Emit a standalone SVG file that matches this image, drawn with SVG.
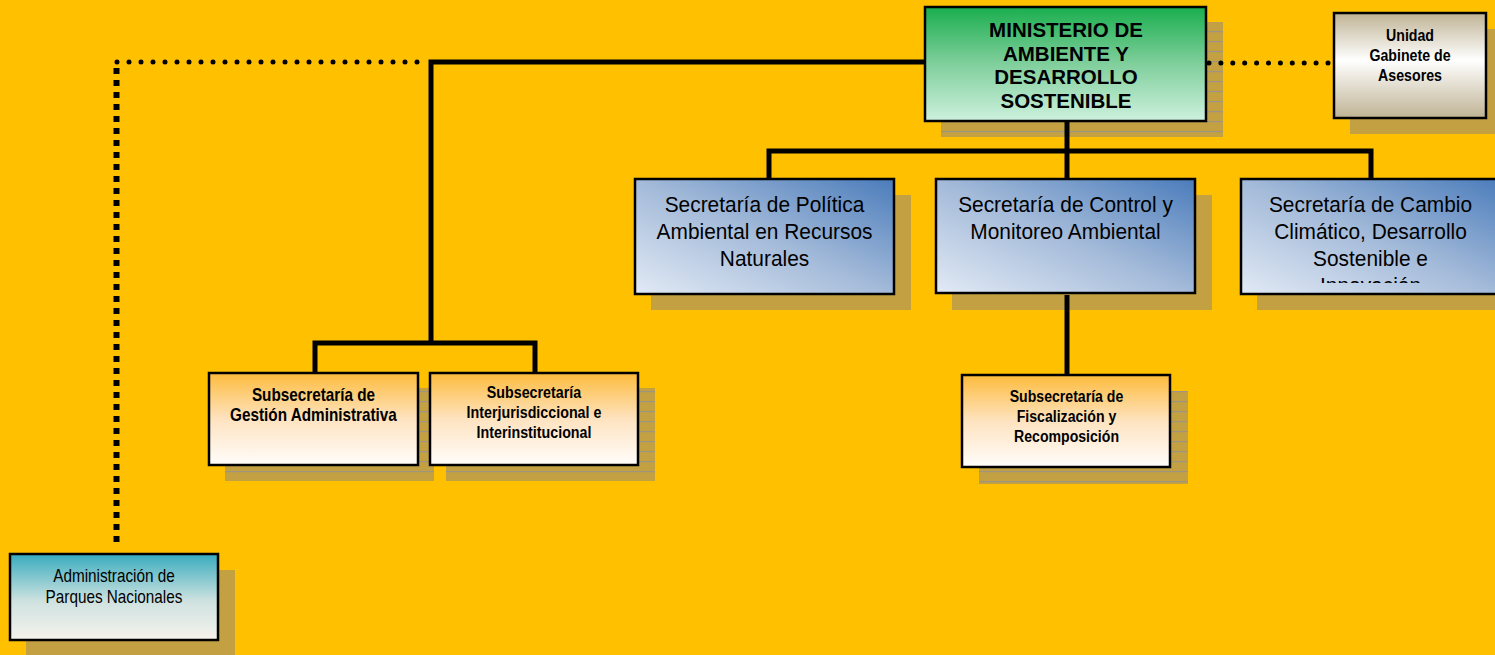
<svg xmlns="http://www.w3.org/2000/svg" width="1495" height="655" viewBox="0 0 1495 655">
<style>
.box{stroke:#000;stroke-width:2.5}
.t{font-family:"Liberation Sans",Arial,sans-serif;fill:#000;text-anchor:middle}
.b{font-weight:bold}
.conn{fill:none;stroke:#000;stroke-width:5}
.shadow{fill:#c3a143}
</style>
<defs>
<pattern id="stripe" width="10" height="10" patternUnits="userSpaceOnUse">
<rect width="10" height="10" fill="#c3a143"/>
<rect y="1" width="10" height="1.2" fill="#9e9580"/>
</pattern>
<linearGradient id="gGreen" x1="0" y1="0" x2="0" y2="1">
<stop offset="0" stop-color="#1aae4e"/>
<stop offset="0.5" stop-color="#80cf9c"/>
<stop offset="1" stop-color="#cdf1de"/>
</linearGradient>
<linearGradient id="gBeige" x1="0" y1="0" x2="0" y2="1">
<stop offset="0" stop-color="#bfb394"/>
<stop offset="0.45" stop-color="#ffffff"/>
<stop offset="1" stop-color="#bfb394"/>
</linearGradient>
<linearGradient id="gBlue" x1="0" y1="1" x2="1" y2="0">
<stop offset="0" stop-color="#e2eaf5"/>
<stop offset="0.5" stop-color="#a3bad9"/>
<stop offset="1" stop-color="#4a7cbb"/>
</linearGradient>
<linearGradient id="gOrange" x1="0" y1="0" x2="0" y2="1">
<stop offset="0" stop-color="#fdbb3c"/>
<stop offset="0.5" stop-color="#fee3c0"/>
<stop offset="1" stop-color="#fffdfb"/>
</linearGradient>
<linearGradient id="gTeal" x1="0" y1="0" x2="0" y2="1">
<stop offset="0" stop-color="#38acbe"/>
<stop offset="0.55" stop-color="#cfe2e0"/>
<stop offset="1" stop-color="#f6f3ec"/>
</linearGradient>
<clipPath id="clipSec3"><rect x="1241" y="179" width="259" height="104"/></clipPath>
</defs>
<rect width="1495" height="655" fill="#ffc000"/>

<g id="ministerio">
<rect x="941" y="22" width="282" height="115" fill="url(#stripe)"/>
<rect class="box" x="925" y="7" width="281" height="114" fill="url(#gGreen)"/>
<text class="t b" font-size="20.5"><tspan x="1066" y="37">MINISTERIO DE</tspan><tspan x="1066" y="61">AMBIENTE Y</tspan><tspan x="1066" y="84">DESARROLLO</tspan><tspan x="1066" y="108">SOSTENIBLE</tspan></text>
</g>

<g id="unidad">
<rect class="shadow" x="1350" y="29" width="152" height="105"/>
<rect class="box" x="1334" y="13" width="152" height="105" fill="url(#gBeige)"/>
<text class="t b" font-size="16.5" transform="translate(1410,0) scale(0.86,1)"><tspan x="0" y="41">Unidad</tspan><tspan x="0" y="61">Gabinete de</tspan><tspan x="0" y="81">Asesores</tspan></text>
</g>

<g id="sec-politica">
<rect class="shadow" x="651" y="195" width="260" height="115"/>
<rect class="box" x="635" y="179" width="259" height="115" fill="url(#gBlue)"/>
<text class="t" font-size="22" transform="translate(764.5,0) scale(0.95,1)"><tspan x="0" y="212">Secretaría de Política</tspan><tspan x="0" y="239">Ambiental en Recursos</tspan><tspan x="0" y="266">Naturales</tspan></text>
</g>

<g id="sec-control">
<rect class="shadow" x="952" y="195" width="260" height="115"/>
<rect class="box" x="936" y="179" width="259" height="114" fill="url(#gBlue)"/>
<text class="t" font-size="22" transform="translate(1065.5,0) scale(0.95,1)"><tspan x="0" y="212">Secretaría de Control y</tspan><tspan x="0" y="239">Monitoreo Ambiental</tspan></text>
</g>

<g id="sec-cambio">
<rect class="shadow" x="1257" y="195" width="260" height="115"/>
<rect class="box" x="1241" y="179" width="262" height="115" fill="url(#gBlue)"/>
<g clip-path="url(#clipSec3)">
<text class="t" font-size="22" transform="translate(1370.5,0) scale(0.95,1)"><tspan x="0" y="212">Secretaría de Cambio</tspan><tspan x="0" y="239">Climático, Desarrollo</tspan><tspan x="0" y="266">Sostenible e</tspan><tspan x="0" y="293">Innovación</tspan></text>
</g>
</g>

<g id="subsec-gestion">
<rect x="225" y="388" width="209" height="93" fill="url(#stripe)"/>
<rect class="box" x="209" y="373" width="209" height="92" fill="url(#gOrange)"/>
<text class="t b" font-size="18" transform="translate(313.5,0) scale(0.85,1)"><tspan x="0" y="401">Subsecretaría de</tspan><tspan x="0" y="421">Gestión Administrativa</tspan></text>
</g>

<g id="subsec-interjur">
<rect x="446" y="388" width="209" height="93" fill="url(#stripe)"/>
<rect class="box" x="430" y="373" width="208" height="92" fill="url(#gOrange)"/>
<text class="t b" font-size="17" transform="translate(534,0) scale(0.84,1)"><tspan x="0" y="398">Subsecretaría</tspan><tspan x="0" y="418">Interjurisdiccional e</tspan><tspan x="0" y="438">Interinstitucional</tspan></text>
</g>

<g id="subsec-fiscalizacion">
<rect x="979" y="391" width="209" height="93" fill="url(#stripe)"/>
<rect class="box" x="962" y="375" width="208" height="92" fill="url(#gOrange)"/>
<text class="t b" font-size="17" transform="translate(1066.5,0) scale(0.83,1)"><tspan x="0" y="402">Subsecretaría de</tspan><tspan x="0" y="422">Fiscalización y</tspan><tspan x="0" y="442">Recomposición</tspan></text>
</g>

<g id="parques">
<rect class="shadow" x="26" y="570" width="209" height="86"/>
<rect class="box" x="10" y="554" width="208" height="86" fill="url(#gTeal)"/>
<text class="t" font-size="18" transform="translate(114,0) scale(0.85,1)"><tspan x="0" y="582">Administración de</tspan><tspan x="0" y="603">Parques Nacionales</tspan></text>
</g>

<g id="connectors">
<path class="conn" d="M925 62 H431 V343"/>
<path class="conn" d="M315 373 V343 H535 V373"/>
<path class="conn" d="M1067 122 V179"/>
<path class="conn" d="M769 179 V151 H1371 V179"/>
<path class="conn" d="M1067 295 V375"/>
<line x1="117" y1="62" x2="418" y2="62" stroke="#000" stroke-width="5" stroke-linecap="round" stroke-dasharray="0 12"/>
<line x1="1209" y1="63" x2="1328" y2="63" stroke="#000" stroke-width="5" stroke-linecap="round" stroke-dasharray="0 11.9"/>
<line x1="116.5" y1="68" x2="116.5" y2="542" stroke="#000" stroke-width="6" stroke-dasharray="6 6"/>
</g>
</svg>
